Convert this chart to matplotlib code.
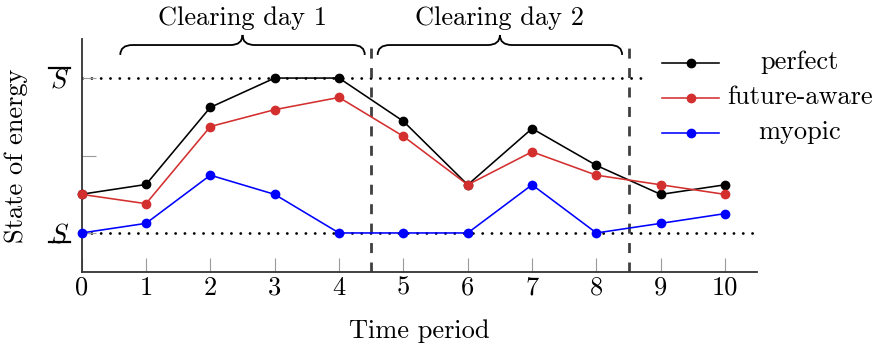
import matplotlib
matplotlib.use("Agg")
import matplotlib.pyplot as plt
from matplotlib.path import Path
from matplotlib.patches import PathPatch, Rectangle
from matplotlib.lines import Line2D
import matplotlib.transforms as mtransforms

plt.rcParams['font.family'] = ['cmr10', 'DejaVu Serif']
plt.rcParams['mathtext.fontset'] = 'cm'
plt.rcParams['axes.formatter.use_mathtext'] = True

# ---------------- data ----------------
periods = list(range(11))
perfect = [0.25, 0.313, 0.811, 1.0, 1.0, 0.721, 0.311, 0.674, 0.436, 0.249, 0.311]
future_aware = [0.249, 0.189, 0.687, 0.796, 0.875, 0.624, 0.311, 0.524, 0.373, 0.311, 0.249]
myopic = [0.0, 0.062, 0.373, 0.249, 0.0, 0.0, 0.0, 0.311, 0.0, 0.062, 0.125]
series_names = ["perfect", "future-aware", "myopic"]
series_colors = ["black", "#d42f2f", "#0000ff"]
ytick_vals = [0.0, 0.5, 1.0]
ytick_labels = [r"$S$", "", r"$S$"]
ytick_bars = ["under", None, "over"]
s_min, s_max = 0.0, 1.0
day_bounds = [4.5, 8.5]
day_spans = [(0.6, 4.4), (4.6, 8.4)]
day_labels = ["Clearing day 1", "Clearing day 2"]

FS = 19

fig = plt.figure(figsize=(8.79, 3.45), dpi=100)
ax = fig.add_axes([0.0929, 0.2125, 0.8615 - 0.0929, 0.886 - 0.2125])
ax.set_xlim(0, 10.5)
ax.set_ylim(-0.25, 1.25)

for s in ['top', 'right']:
    ax.spines[s].set_visible(False)
for s in ['left', 'bottom']:
    ax.spines[s].set_color('#333333')
    ax.spines[s].set_linewidth(1.3)

ax.set_xticks(periods)
ax.set_xticklabels([str(p) for p in periods])
ax.set_yticks(ytick_vals)
ax.set_yticklabels(ytick_labels)
ax.tick_params(axis='both', direction='in', length=10, width=0.8, color='#9a9a9a',
               labelsize=FS)
ax.tick_params(axis='x', pad=3)
ax.tick_params(axis='y', pad=9)

# bounds
dot_style = dict(color='black', lw=2.0, linestyle=(0, (0.05, 3.3)), dash_capstyle='round', zorder=1)
ax.axhline(s_max, **dot_style)
ax.axhline(s_min, **dot_style)

# day boundaries
for xb in day_bounds:
    ax.axvline(xb, color='#404040', lw=2.0, linestyle=(0, (3.6, 3.4)), zorder=1.5)

# series
for vals, c in zip([perfect, future_aware, myopic], series_colors):
    ax.plot(periods, vals, color=c, lw=1.15, marker='o', markersize=6, clip_on=False, zorder=3)

# braces
btr = mtransforms.blended_transform_factory(ax.transData, ax.transAxes)
y_tip, y_mid, y_peak = 0.9329, 0.9755, 1.0186
rx = 0.19
for (x0, x1), lab in zip(day_spans, day_labels):
    xc = (x0 + x1) / 2
    verts = [(x0, y_tip), (x0, y_mid), (x0 + rx, y_mid), (xc - rx, y_mid),
             (xc, y_mid), (xc, y_peak), (xc, y_mid), (xc + rx, y_mid),
             (x1 - rx, y_mid), (x1, y_mid), (x1, y_tip)]
    codes = [Path.MOVETO, Path.CURVE3, Path.CURVE3, Path.LINETO,
             Path.CURVE3, Path.CURVE3, Path.CURVE3, Path.CURVE3,
             Path.LINETO, Path.CURVE3, Path.CURVE3]
    ax.add_patch(PathPatch(Path(verts, codes), transform=btr, fill=False,
                           lw=1.3, color='black', clip_on=False, zorder=4))
    ax.text(xc, 1.0615, lab, transform=btr, ha='center', va='baseline', fontsize=FS)

# legend (manual, centred labels like the original)
ax.add_patch(Rectangle((0.831, 0.5), 0.4, 0.6, transform=ax.transAxes, facecolor='white',
                       edgecolor='none', clip_on=False, zorder=2))
row_y = [0.8967, 0.7461, 0.5955]
for name, c, yy in zip(series_names, series_colors, row_y):
    ax.add_line(Line2D([0.8585, 0.9438], [yy, yy], transform=ax.transAxes, color=c,
                       lw=1.15, clip_on=False, zorder=5))
    ax.add_line(Line2D([0.9019], [yy], transform=ax.transAxes, color=c, marker='o',
                       markersize=6, clip_on=False, zorder=5))
    ax.text(1.0632, yy - 0.0237, name, transform=ax.transAxes, ha='center', va='baseline',
            fontsize=FS, zorder=5)

ax.set_xlabel("Time period", fontsize=FS)
ax.xaxis.set_label_coords(0.4993, -0.285)
ax.xaxis.label.set_va('baseline')
ax.set_ylabel("State of energy", fontsize=FS)
ax.yaxis.set_label_coords(-0.0795, 0.5)

# over/under bars on the S tick labels (placed relative to the tick position)
fig.canvas.draw()
renderer = fig.canvas.get_renderer()
inv = fig.transFigure.inverted()
for lbl, bar, yv in zip(ax.get_yticklabels(), ytick_bars, ytick_vals):
    if bar is None:
        continue
    bb = lbl.get_window_extent(renderer)
    ytick_px = ax.transData.transform((0, yv))[1]
    x0, x1 = bb.x0 - 1, bb.x1 + 1
    ybar = ytick_px - 9 if bar == "under" else ytick_px + 10
    (fx0, fy), (fx1, _) = inv.transform([(x0, ybar), (x1, ybar)])
    fig.add_artist(Line2D([fx0, fx1], [fy, fy], transform=fig.transFigure,
                          color='black', lw=1.6))

fig.savefig("out.png", dpi=100)
